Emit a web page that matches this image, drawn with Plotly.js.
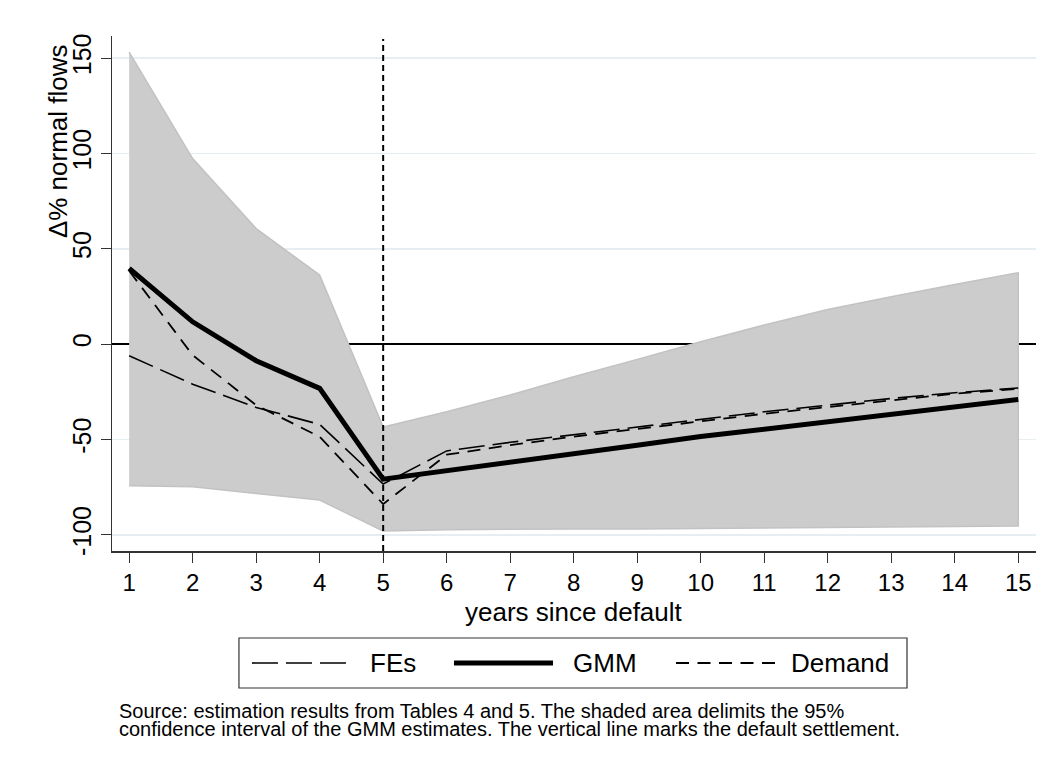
<!DOCTYPE html>
<html>
<head>
<meta charset="utf-8">
<script src="https://cdn.plot.ly/plotly-3.0.1.min.js"></script>
<style>
html,body{margin:0;padding:0;background:#fff;}
#chart{width:1058px;height:772px;}
</style>
</head>
<body>
<div id="chart"></div>
<script>
// ---- data ----
const years = [1, 2, 3, 4, 5, 6, 7, 8, 9, 10, 11, 12, 13, 14, 15];
const gmm    = [39.7, 11.7, -8.7, -23.2, -70.8, -66.5, -62, -57.5, -53, -48.5, -44.5, -40.5, -36.5, -32.5, -29];
const fes    = [-6.1, -21, -33.2, -42.1, -73.4, -56, -51.5, -47.5, -43.5, -39.5, -35.5, -32, -28.5, -25.5, -23];
const demand = [38.5, -5.8, -32, -48.6, -83.9, -58, -53, -48.5, -44.5, -40.5, -36.5, -33, -29.5, -26, -23.5];
const ciUpper = [153.2, 97.3, 60.6, 36.2, -43.5, -35.5, -26.7, -17.1, -8, 1.2, 10, 18.2, 24.8, 31.3, 37.4];
const ciLower = [-74.3, -74.8, -78.3, -81.8, -98, -97.3, -97.2, -97, -96.9, -96.8, -96.6, -96.3, -96, -95.7, -95.4];
const yTicks = [-100, -50, 0, 50, 100, 150];
const yTickText = ['-100', '-50', '0', '50', '100', '150'];
const settlementYear = 5;
const legendNames = ['FEs', 'GMM', 'Demand'];
const yTitle = 'Δ% normal flows';
const xTitle = 'years since default';
const noteLines = [
  'Source: estimation results from Tables 4 and 5. The shaded area delimits the 95%',
  'confidence interval of the GMM estimates. The vertical line marks the default settlement.'
];

const FONT = 'Liberation Sans, Arial, Helvetica, sans-serif';
const FES_DASH = '26px,8px';
const DEM_DASH = '13px,8.5px';

const polyX = years.concat(years.slice().reverse());
const polyY = ciUpper.concat(ciLower.slice().reverse());

const traces = [
  {x: polyX, y: polyY, type: 'scatter', mode: 'lines', fill: 'toself',
   fillcolor: '#cccccc', line: {color: '#c2c2c2', width: 1.5}, hoverinfo: 'skip', showlegend: false},
  {x: years, y: fes, type: 'scatter', mode: 'lines', name: legendNames[0],
   line: {color: '#000', width: 1.6, dash: FES_DASH}, showlegend: false},
  {x: years, y: demand, type: 'scatter', mode: 'lines', name: legendNames[2],
   line: {color: '#000', width: 1.8, dash: DEM_DASH}, showlegend: false},
  {x: years, y: gmm, type: 'scatter', mode: 'lines', name: legendNames[1],
   line: {color: '#000', width: 5}, showlegend: false}
];

// legend geometry (paper coords)
const legY = -0.2175;
const shapes = [
  {type: 'line', xref: 'x', yref: 'paper', x0: settlementYear, x1: settlementYear, y0: 0, y1: 0.994,
   line: {color: '#000', width: 2, dash: '6px,4px'}, layer: 'above'},
  {type: 'rect', xref: 'paper', yref: 'paper', x0: 0.1374, x1: 0.8604, y0: -0.1689, y1: -0.266,
   line: {color: '#333', width: 1.2}, fillcolor: 'rgba(0,0,0,0)'},
  {type: 'line', xref: 'paper', yref: 'paper', x0: 0.1515, x1: 0.2532, y0: legY, y1: legY,
   line: {color: '#000', width: 1.6, dash: FES_DASH}},
  {type: 'line', xref: 'paper', yref: 'paper', x0: 0.3701, x1: 0.4773, y0: legY, y1: legY,
   line: {color: '#000', width: 5}},
  {type: 'line', xref: 'paper', yref: 'paper', x0: 0.6104, x1: 0.7175, y0: legY, y1: legY,
   line: {color: '#000', width: 1.8, dash: DEM_DASH}}
];

const annotations = [
  {xref: 'paper', yref: 'paper', x: 0.2771, y: legY, xanchor: 'left', yanchor: 'middle',
   text: legendNames[0], showarrow: false, font: {family: FONT, size: 26, color: '#000'}},
  {xref: 'paper', yref: 'paper', x: 0.4968, y: legY, xanchor: 'left', yanchor: 'middle',
   text: legendNames[1], showarrow: false, font: {family: FONT, size: 26, color: '#000'}},
  {xref: 'paper', yref: 'paper', x: 0.7327, y: legY, xanchor: 'left', yanchor: 'middle',
   text: legendNames[2], showarrow: false, font: {family: FONT, size: 26, color: '#000'}},
  {xref: 'paper', yref: 'paper', x: -0.0584, y: 0.796, xanchor: 'center', yanchor: 'middle',
   text: yTitle, textangle: -90, showarrow: false, font: {family: FONT, size: 26, color: '#000'}},
  {xref: 'paper', yref: 'paper', x: 0.5, y: -0.1185, xanchor: 'center', yanchor: 'middle',
   text: xTitle, showarrow: false, font: {family: FONT, size: 26, color: '#000'}},
  {xref: 'paper', yref: 'paper', x: 0.0054, y: -0.3116, xanchor: 'left', yanchor: 'middle',
   text: noteLines[0], showarrow: false, font: {family: FONT, size: 20, color: '#000'}},
  {xref: 'paper', yref: 'paper', x: 0.0054, y: -0.3456, xanchor: 'left', yanchor: 'middle',
   text: noteLines[1], showarrow: false, font: {family: FONT, size: 20, color: '#000'}}
];

const layout = {
  width: 1058, height: 772,
  margin: {l: 112, r: 22, t: 36, b: 221},
  paper_bgcolor: '#fff', plot_bgcolor: '#fff',
  font: {family: FONT, size: 24, color: '#000'},
  showlegend: false,
  xaxis: {
    range: [0.73, 15.28], tickvals: years, ticks: 'outside', ticklen: 10, tickwidth: 1.2,
    tickcolor: '#333', showline: true, linecolor: '#333', linewidth: 1.5,
    showgrid: false, zeroline: false, tickfont: {family: FONT, size: 24}
  },
  yaxis: {
    range: [-108.5, 161.6], tickvals: yTicks, ticktext: yTickText, ticks: 'outside', ticklen: 10, tickwidth: 1.2,
    tickcolor: '#333', showline: true, linecolor: '#333', linewidth: 1.5,
    showgrid: true, gridcolor: '#e6eef1', gridwidth: 1.5,
    zeroline: true, zerolinecolor: '#000', zerolinewidth: 2,
    tickangle: -90, tickfont: {family: FONT, size: 25}
  },
  shapes: shapes,
  annotations: annotations
};

Plotly.newPlot('chart', traces, layout, {displayModeBar: false, staticPlot: true});
</script>
</body>
</html>
